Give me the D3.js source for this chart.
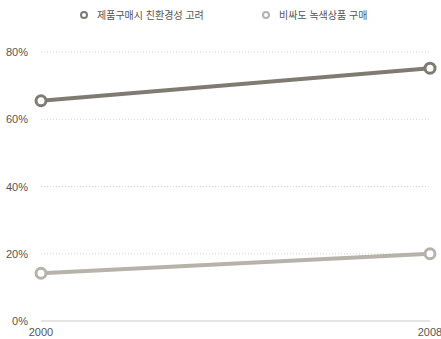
<!DOCTYPE html>
<html lang="ko">
<head>
<meta charset="utf-8">
<script src="https://d3js.org/d3.v7.min.js"></script>
<style>
  body { margin: 0; background: #fff; }
  svg { display: block; }
  .tick text { font-family: "Liberation Sans", Arial, sans-serif; fill: #555; }
  .legend text { font-family: "Noto Sans CJK KR", "Noto Sans", sans-serif; fill: #555; }
</style>
</head>
<body>
<svg id="chart" width="441" height="339"></svg>
<script>
// data
const years = [2000, 2008];
const seriesNames = ["제품구매시 친환경성 고려", "비싸도 녹색상품 구매"];
const considerEco = [65.5, 75.2];
const buyGreen = [14.2, 20];
const colors = ["#7f7b73", "#b7b2aa"];
const yTicks = [0, 20, 40, 60, 80];

const series = [considerEco, buyGreen];

const svg = d3.select("#chart");
const margin = {left: 41, right: 11, top: 52, bottom: 18};
const W = 441, H = 339;

const x = d3.scaleLinear().domain([2000, 2008]).range([margin.left, W - margin.right]);
const y = d3.scaleLinear().domain([0, 80]).range([H - margin.bottom, margin.top]);

// gridlines
svg.append("g").selectAll("line")
  .data(yTicks)
  .join("line")
  .attr("x1", x(2000)).attr("x2", x(2008))
  .attr("y1", d => y(d)).attr("y2", d => y(d))
  .attr("stroke", d => d === 0 ? "#dddddd" : "#d4d4d4")
  .attr("stroke-width", d => d === 0 ? 1.5 : 1)
  .attr("stroke-dasharray", d => d === 0 ? null : "1,2");

// y labels
svg.append("g").attr("class", "tick").selectAll("text")
  .data(yTicks)
  .join("text")
  .attr("x", 28).attr("y", d => y(d) + 4)
  .attr("text-anchor", "end")
  .attr("font-size", 11)
  .text(d => d + "%");

// x labels
svg.append("g").attr("class", "tick").selectAll("text")
  .data(years)
  .join("text")
  .attr("x", d => x(d)).attr("y", H - 3)
  .attr("text-anchor", "middle")
  .attr("font-size", 11)
  .text(d => d);

const line = d3.line().x((d, i) => x(years[i])).y(d => y(d));

series.forEach((s, k) => {
  svg.append("path")
    .datum(s)
    .attr("d", line)
    .attr("fill", "none")
    .attr("stroke", colors[k])
    .attr("stroke-width", 4);
  svg.append("g").selectAll("circle")
    .data(s)
    .join("circle")
    .attr("cx", (d, i) => x(years[i]))
    .attr("cy", d => y(d))
    .attr("r", 5)
    .attr("fill", "#fff")
    .attr("stroke", colors[k])
    .attr("stroke-width", 3);
});

// legend
const legend = svg.append("g").attr("class", "legend");
const legX = [84, 266];
seriesNames.forEach((name, k) => {
  legend.append("circle")
    .attr("cx", legX[k]).attr("cy", 15).attr("r", 3)
    .attr("fill", "#fff").attr("stroke", colors[k]).attr("stroke-width", 2);
  legend.append("text")
    .attr("x", legX[k] + 13).attr("y", 19)
    .attr("font-size", 10)
    .text(name);
});
</script>
</body>
</html>
